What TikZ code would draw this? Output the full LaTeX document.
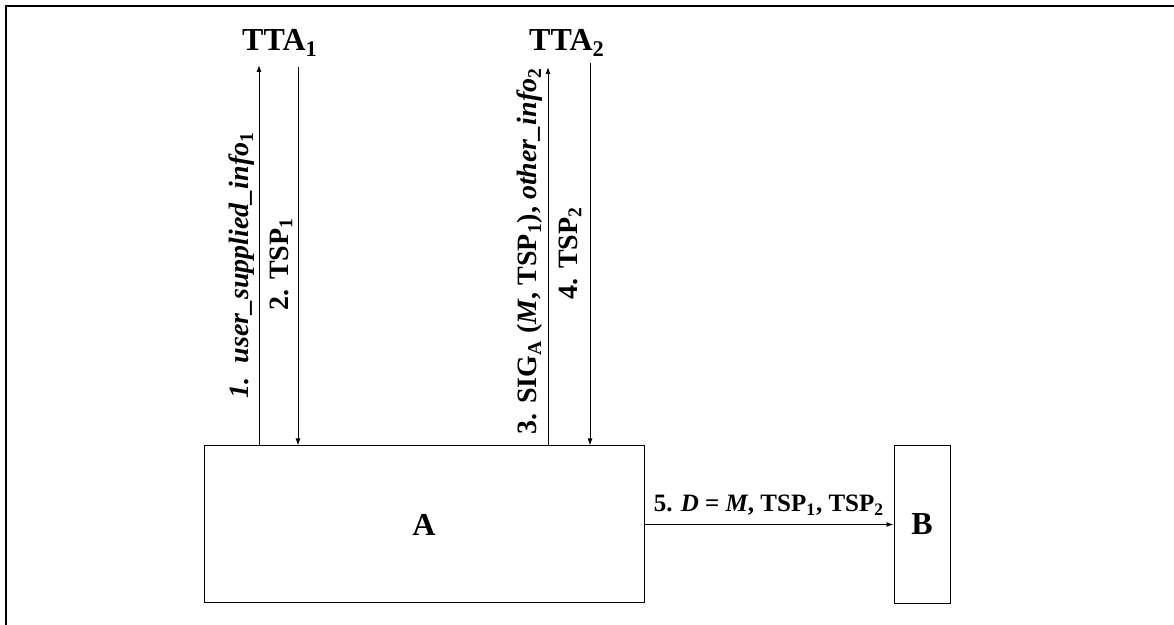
\documentclass[tikz,border=0pt]{standalone}
\usepackage{fontspec}
\setmainfont{Liberation Serif}
\usetikzlibrary{positioning,arrows.meta}

\begin{document}
\begin{tikzpicture}[x=0.5pt, y=-0.5pt, >={Latex[length=3.5pt,width=2.5pt]},
		box/.style={draw, line width=0.5pt, inner sep=0pt, font=\fontsize{16}{18}\selectfont\bfseries},
		party/.style={font=\fontsize{16}{18}\selectfont\bfseries},
		msg/.style={rotate=90, font=\fontsize{14}{16}\selectfont\bfseries},
		flow/.style={->, line width=0.5pt}]
	\useasboundingbox (0,0) rectangle (1174,625);
	\draw[line width=1.2pt] (1174,6) -- (6,6) -- (6,625);

	\node[box, minimum width=220pt, minimum height=78.5pt] (A) at (424,524.5) {A};
	\node[box, minimum width=28pt, minimum height=79pt, right=124.5pt of A] (B) {B};

	\node[party] (tta1) at (280,43) {TTA\textsubscript{1}};
	\node[party] (tta2) at (567,43) {TTA\textsubscript{2}};

	\foreach \n/\x/\y in {u1/259/65, d1/298/67, u2/548/67, d2/590/63}
		\coordinate (\n) at (\x,\y);

	\foreach \n in {u1,u2}
		\draw[flow] (A.north -| \n) -- (\n);
	\foreach \n in {d1,d2}
		\draw[flow] (\n) -- (A.north -| \n);

	\node[msg] (m1) at (242,265) {\textit{1.~~user\_supplied\_info}\textsubscript{1}};
	\node[msg] (m2) at (281,264) {2. TSP\textsubscript{1}};
	\node[msg] (m3) at (530,251) {3. SIG\textsubscript{A} (\textit{M}, TSP\textsubscript{1}), \textit{other\_info}\textsubscript{2}};
	\node[msg] (m4) at (570,253) {4. TSP\textsubscript{2}};

	\path (A) edge[flow] node[above, yshift=1pt, font=\fontsize{12.5}{14}\selectfont\bfseries] {5. \textit{D} = \textit{M}, TSP\textsubscript{1}, TSP\textsubscript{2}} (B);
\end{tikzpicture}
\end{document}
